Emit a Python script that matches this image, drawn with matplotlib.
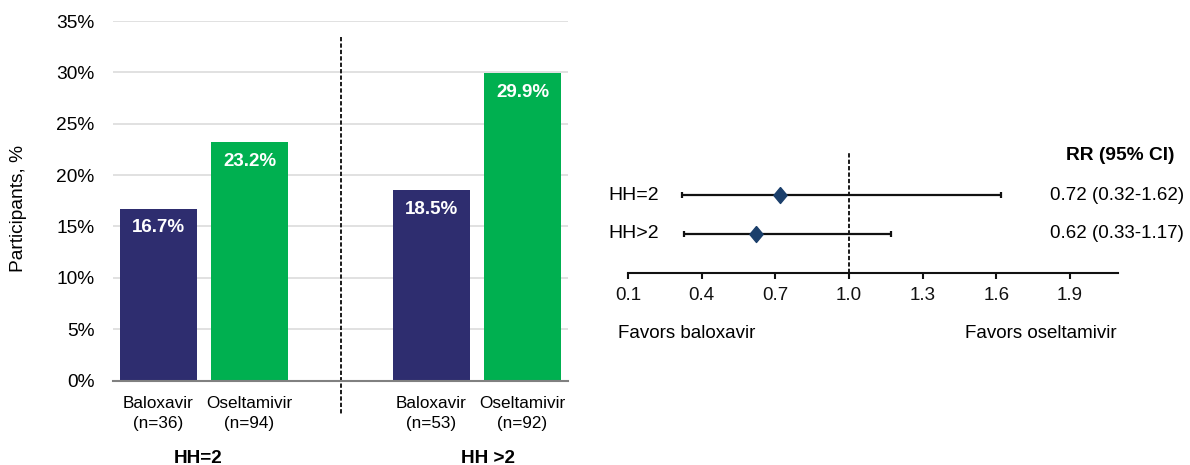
import matplotlib
matplotlib.use("Agg")
import matplotlib.pyplot as plt
from matplotlib.transforms import blended_transform_factory
from matplotlib.lines import Line2D

plt.rcParams['font.family'] = ['Liberation Sans', 'DejaVu Sans']

# ---- bar chart data ----
bar_positions = [0, 1, 3, 4]
bar_values = [16.7, 23.2, 18.5, 29.9]
bar_labels = ["Baloxavir\n(n=36)", "Oseltamivir\n(n=94)", "Baloxavir\n(n=53)", "Oseltamivir\n(n=92)"]
bar_colors = ["#2E2D6F", "#00B050", "#2E2D6F", "#00B050"]
group_names = ["HH=2", "HH >2"]
y_ticks = [0, 5, 10, 15, 20, 25, 30, 35]

# ---- forest plot data ----
forest_rows = ["HH=2", "HH>2"]
rr = [0.72, 0.62]
ci_low = [0.32, 0.33]
ci_high = [1.62, 1.17]
rr_text = ["0.72 (0.32-1.62)", "0.62 (0.33-1.17)"]
forest_ticks = [0.1, 0.4, 0.7, 1.0, 1.3, 1.6, 1.9]

W, H = 1190, 465
fig = plt.figure(figsize=(W / 100, H / 100), dpi=100)


def fx(px):
    return px / W


def fy(py):
    return 1 - py / H


DASH = (0, (2.2, 1.1))

# ================= bar chart =================
ax = fig.add_axes([fx(113), fy(380.5), fx(568) - fx(113), fy(21) - fy(380.5)])
ax.bar(bar_positions, bar_values, width=0.85, color=bar_colors, zorder=3)
ax.set_xlim(-0.5, 4.5)
ax.set_ylim(0, 35)
ax.set_yticks(y_ticks)
ax.set_yticklabels([f"{t}%" for t in y_ticks], fontsize=13.8)
ax.tick_params(axis='y', length=0, pad=13.5)
ax.set_xticks([])
ax.grid(axis='y', color="#D9D9D9", linewidth=1.1, zorder=0)
for s in ["top", "right", "left"]:
    ax.spines[s].set_visible(False)
ax.spines["bottom"].set_color("#808080")
ax.spines["bottom"].set_linewidth(1.5)
ax.spines["bottom"].set_zorder(4)

for x, v in zip(bar_positions, bar_values):
    ax.annotate(f"{v}%", (x, v), xytext=(0, -13.7), textcoords="offset points",
                ha="center", va="center", color="white", fontsize=13.5,
                fontweight="bold", zorder=5)

tr_x = blended_transform_factory(ax.transData, fig.transFigure)
for x, lab in zip(bar_positions, bar_labels):
    name, n = lab.split("\n")
    ax.text(x, fy(403), name, transform=tr_x, ha="center", va="center", fontsize=12.3)
    ax.text(x, fy(423), n, transform=tr_x, ha="center", va="center", fontsize=12.3)

for gx, g in zip([0.44, 3.62], group_names):
    ax.text(gx, fy(458), g, transform=tr_x, ha="center", va="center",
            fontsize=13.7, fontweight="bold")

# dashed divider between household groups
ax.add_line(Line2D([2, 2], [fy(37), fy(414)], transform=tr_x, color="#1A1A1A",
                   linewidth=1.4, linestyle=DASH, clip_on=False))

fig.text(fx(19), fy(209), "Participants, %", rotation=90, ha="center", va="center",
         fontsize=13.8)

# ================= forest plot =================
fa = fig.add_axes([fx(628), fy(273), fx(1118) - fx(628), fy(150) - fy(273)])
fa.set_xlim(0.1, 2.095)
fa.set_ylim(0, 123 / 39)
row_y = [2, 1]
diamond = [(0, 1), (0.83, 0), (0, -1), (-0.83, 0), (0, 1)]
for y, m, lo, hi in zip(row_y, rr, ci_low, ci_high):
    fa.errorbar([m], [y], xerr=[[m - lo], [hi - m]], fmt="none", ecolor="#111111",
                elinewidth=1.6, capsize=2.5, capthick=1.6, zorder=3)
    fa.plot([m], [y], marker=diamond, markersize=11.5, color="#1B3F6B",
            linestyle="none", zorder=4)
fa.plot([1.0, 1.0], [0, 120 / 39], color="#1A1A1A", linewidth=1.4,
        linestyle=DASH, zorder=2)

fa.set_xticks(forest_ticks)
fa.set_xticklabels([f"{t:.1f}" for t in forest_ticks], fontsize=13.5)
fa.tick_params(axis='x', direction="out", length=4, width=1.5, pad=6, colors="#111111")
fa.set_yticks([])
for s in ["top", "right", "left"]:
    fa.spines[s].set_visible(False)
fa.spines["bottom"].set_linewidth(1.5)
fa.spines["bottom"].set_color("#111111")
fa.patch.set_visible(False)

tr_f = blended_transform_factory(fig.transFigure, fa.transData)
for y, lab, txt in zip(row_y, forest_rows, rr_text):
    fa.text(fx(608), y, lab, transform=tr_f, ha="left", va="center", fontsize=14)
    fa.text(fx(1184), y, txt, transform=tr_f, ha="right", va="center", fontsize=13.5)
fa.text(fx(1174), 3.0, "RR (95% CI)", transform=tr_f, ha="right", va="center",
        fontsize=13.8, fontweight="bold")

fig.text(fx(618), fy(333), "Favors baloxavir", ha="left", va="center", fontsize=13.5)
fig.text(fx(1117), fy(333), "Favors oseltamivir", ha="right", va="center", fontsize=13.5)

fig.savefig("out.png", dpi=100)
